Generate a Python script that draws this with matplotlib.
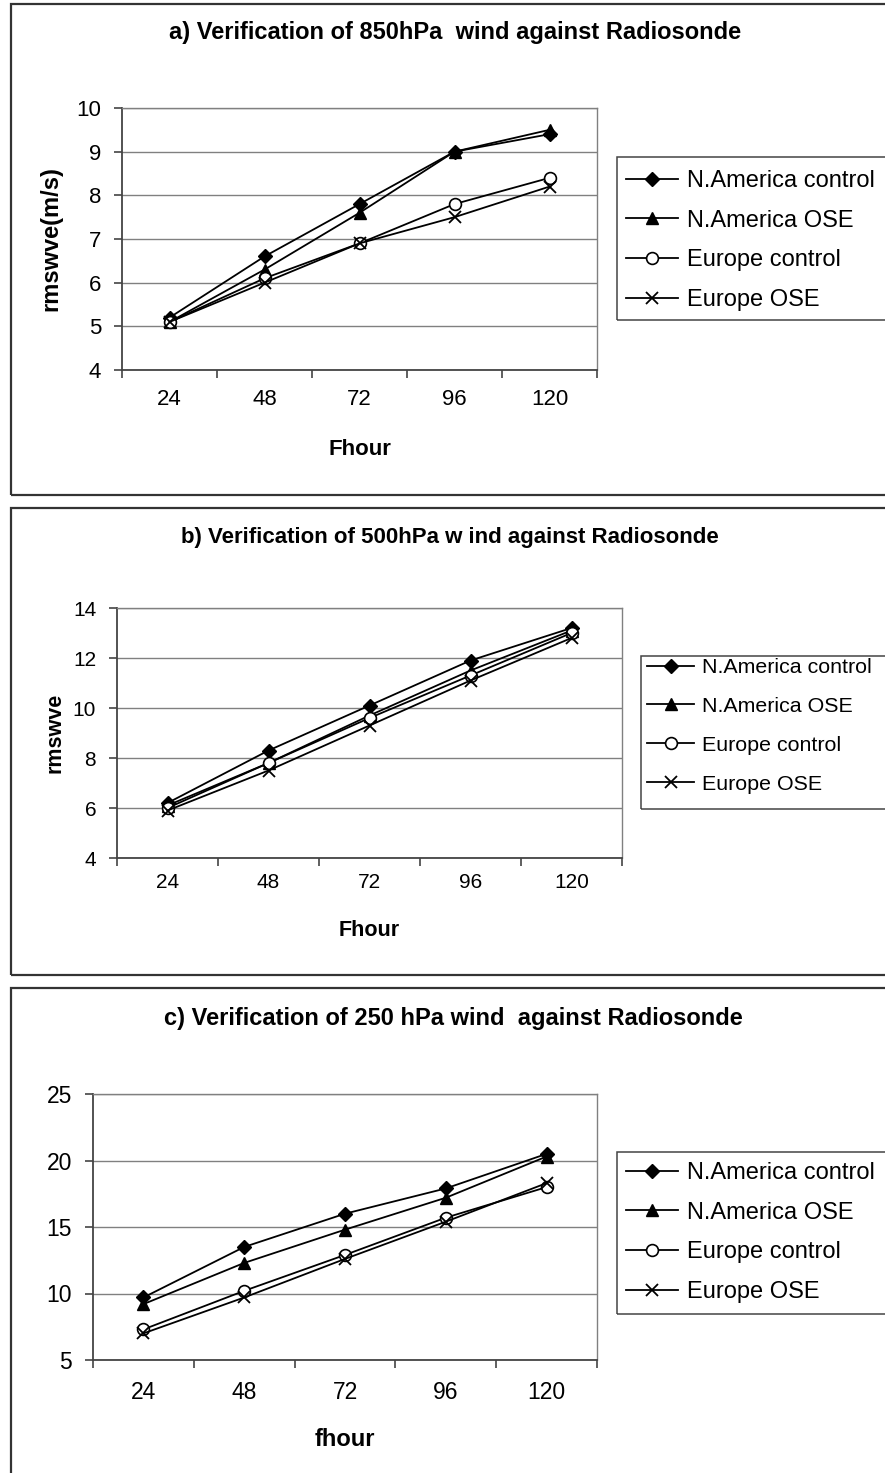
import matplotlib
matplotlib.use("Agg")
import matplotlib.pyplot as plt
from matplotlib.patches import Rectangle
from matplotlib.lines import Line2D

plt.rcParams['font.family'] = ['Liberation Sans', 'DejaVu Sans']

# data
hours = ["24", "48", "72", "96", "120"]
series_names = ["N.America control", "N.America OSE", "Europe control", "Europe OSE"]

a_na_ctl = [5.2, 6.6, 7.8, 9.0, 9.4]
a_na_ose = [5.1, 6.3, 7.6, 9.0, 9.5]
a_eu_ctl = [5.1, 6.1, 6.9, 7.8, 8.4]
a_eu_ose = [5.1, 6.0, 6.9, 7.5, 8.2]

b_na_ctl = [6.2, 8.3, 10.1, 11.9, 13.2]
b_na_ose = [6.1, 7.8, 9.7, 11.5, 13.1]
b_eu_ctl = [6.0, 7.8, 9.6, 11.3, 13.0]
b_eu_ose = [5.9, 7.5, 9.3, 11.1, 12.8]

c_na_ctl = [9.7, 13.5, 16.0, 17.9, 20.5]
c_na_ose = [9.2, 12.3, 14.8, 17.2, 20.3]
c_eu_ctl = [7.3, 10.2, 12.9, 15.7, 18.0]
c_eu_ose = [7.0, 9.7, 12.6, 15.4, 18.3]

titles = ["a) Verification of 850hPa  wind against Radiosonde",
          "b) Verification of 500hPa w ind against Radiosonde",
          "c) Verification of 250 hPa wind  against Radiosonde"]
xlabels = ["Fhour", "Fhour", "fhour"]
ylabels = ["rmswve(m/s)", "rmswve", ""]
yticks_list = [[4, 5, 6, 7, 8, 9, 10], [4, 6, 8, 10, 12, 14], [5, 10, 15, 20, 25]]

W, H = 885, 1473
fig = plt.figure(figsize=(W / 100, H / 100), dpi=100)


def rect(x0, y0, x1, y1):
    return [x0 / W, 1 - y1 / H, (x1 - x0) / W, (y1 - y0) / H]


styles = [
    dict(marker='D', ms=7, mfc='black', mec='black'),
    dict(marker='^', ms=9, mfc='black', mec='black'),
    dict(marker='o', ms=8.5, mfc='white', mec='black', mew=1.2),
    dict(marker='x', ms=8.5, mec='black', mew=1.3),
]

# layout per panel (pixels): frame, plot area, title pos, label positions, legend
panels = [
    dict(data=[a_na_ctl, a_na_ose, a_eu_ctl, a_eu_ose],
         frame=(11, 4, 900, 495), plot=(122, 108, 597, 370), title_xy=(455, 33),
         title_fs=17, tick_fs=16, xlab_fs=16, ylab_fs=17,
         xlab_y=450, ylab_x=51, xpad=14, legbox=(617, 157, 900, 320),
         leg_xy=(626, 170), legfs=17, legsp=0.75),
    dict(data=[b_na_ctl, b_na_ose, b_eu_ctl, b_eu_ose],
         frame=(11, 508, 900, 975), plot=(117, 608, 622, 858), title_xy=(450, 538),
         title_fs=16, tick_fs=15, xlab_fs=15.5, ylab_fs=15.5,
         xlab_y=931, ylab_x=55, xpad=11, legbox=(641, 656, 900, 809),
         leg_xy=(647, 658), legfs=15.4, legsp=0.93),
    dict(data=[c_na_ctl, c_na_ose, c_eu_ctl, c_eu_ose],
         frame=(11, 988, 900, 1490), plot=(93, 1094, 597, 1360), title_xy=(453, 1018),
         title_fs=17, tick_fs=16.5, xlab_fs=17, ylab_fs=17,
         xlab_y=1440, ylab_x=50, xpad=15, legbox=(617, 1152, 900, 1314),
         leg_xy=(626, 1162), legfs=17, legsp=0.75),
]

for i, p in enumerate(panels):
    fx0, fy0, fx1, fy1 = p['frame']
    fig.add_artist(Rectangle((fx0 / W, 1 - fy1 / H), (fx1 - fx0) / W, (fy1 - fy0) / H,
                             transform=fig.transFigure, fill=False, lw=1.6, ec='#333333'))

    ax = fig.add_axes(rect(*p['plot']))
    x = range(len(hours))
    for vals, st, name in zip(p['data'], styles, series_names):
        ax.plot(x, vals, color='black', lw=1.3, label=name, **st)

    yt = yticks_list[i]
    ax.set_ylim(yt[0], yt[-1])
    ax.set_yticks(yt)
    ax.set_xlim(-0.5, len(hours) - 0.5)
    ax.set_xticks(list(x))
    ax.set_xticklabels(hours)
    ax.set_xticks([k - 0.5 for k in range(len(hours) + 1)], minor=True)
    ax.tick_params(axis='x', which='major', length=0, pad=p['xpad'], labelsize=p['tick_fs'])
    ax.tick_params(axis='x', which='minor', length=6, width=1.2, direction='out', color='#444444')
    ax.tick_params(axis='y', length=6, width=1.2, direction='out', color='#444444',
                   pad=9, labelsize=p['tick_fs'])
    ax.yaxis.grid(True, color='#808080', lw=1)
    ax.set_axisbelow(True)
    for s in ['top', 'right']:
        ax.spines[s].set_color('#808080')
        ax.spines[s].set_linewidth(1)
    for s in ['left', 'bottom']:
        ax.spines[s].set_color('#444444')
        ax.spines[s].set_linewidth(1.3)

    px0, py0, px1, py1 = p['plot']
    ax.set_xlabel(xlabels[i], fontsize=p['xlab_fs'], fontweight='bold')
    ax.xaxis.set_label_coords(0.5, (py1 - p['xlab_y']) / (py1 - py0))
    ax.xaxis.label.set_va('center')
    if ylabels[i]:
        ax.set_ylabel(ylabels[i], fontsize=p['ylab_fs'], fontweight='bold')
        ax.yaxis.set_label_coords((p['ylab_x'] - px0) / (px1 - px0), 0.5)
        ax.yaxis.label.set_va('center')

    tx, ty = p['title_xy']
    fig.text(tx / W, 1 - ty / H, titles[i], ha='center', va='center',
             fontsize=p['title_fs'], fontweight='bold')

    lx0, ly0, lx1, ly1 = p['legbox']
    fig.add_artist(Rectangle((lx0 / W, 1 - ly1 / H), (lx1 - lx0) / W, (ly1 - ly0) / H,
                             transform=fig.transFigure, fill=False, lw=1.1, ec='#444444'))
    handles = [Line2D([], [], color='black', lw=1.3, **st) for st in styles]
    lgx, lgy = p['leg_xy']
    ax.legend(handles, series_names, loc='upper left',
              bbox_to_anchor=(lgx / W, 1 - lgy / H), bbox_transform=fig.transFigure,
              frameon=False, borderpad=0, borderaxespad=0, handlelength=2.2,
              handletextpad=0.38, labelspacing=p['legsp'], fontsize=p['legfs'])

fig.savefig("out.png", dpi=100)
